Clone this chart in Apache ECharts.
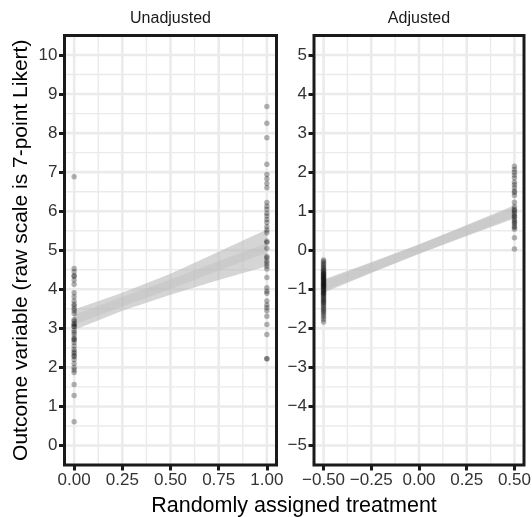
<!DOCTYPE html>
<html><head><meta charset="utf-8">
<script src="https://cdn.jsdelivr.net/npm/echarts@6/dist/echarts.min.js"></script>
<style>html,body{margin:0;padding:0;background:#fff}#c{width:532px;height:517px}</style>
</head><body><div id="c"></div>
<script>
// ---- text ----
const panelTitles = ['Unadjusted', 'Adjusted'];
const xTitle = 'Randomly assigned treatment';
const yTitle = 'Outcome variable (raw scale is 7-point Likert)';

// ---- tick labels / breaks ----
const unadjXTicks = [0, 0.25, 0.5, 0.75, 1];
const unadjXMinor = [0.125, 0.375, 0.625, 0.875];
const adjXTicks = [-0.5, -0.25, 0, 0.25, 0.5];
const adjXMinor = [-0.375, -0.125, 0.125, 0.375];
const unadjYTicks = [0, 1, 2, 3, 4, 5, 6, 7, 8, 9, 10];
const unadjYMinor = [0.5, 1.5, 2.5, 3.5, 4.5, 5.5, 6.5, 7.5, 8.5, 9.5];
const adjYTicks = [-5, -4, -3, -2, -1, 0, 1, 2, 3, 4, 5];
const adjYMinor = [-4.5, -3.5, -2.5, -1.5, -0.5, 0.5, 1.5, 2.5, 3.5, 4.5];

// ---- treatment values ----
const unadjGroups = [0, 1];
const adjGroups = [-0.5, 0.5];

// ---- outcome values ----
const unadjControl = [6.88, 4.53, 4.45, 4.34, 4.34, 4.24, 4.13, 3.91, 3.81, 3.70, 3.62, 3.57, 3.50, 3.45,
  3.38, 3.22, 3.18, 3.12, 3.10, 3.05, 3.05, 2.95, 2.90, 2.84, 2.76, 2.72, 2.70, 2.64, 2.55, 2.46, 2.40,
  2.36, 2.30, 2.28, 2.20, 2.10, 2.00, 1.93, 1.87, 1.56, 1.28, 0.61];
const unadjTreated = [8.68, 8.25, 7.88, 7.20, 6.94, 6.83, 6.71, 6.60, 6.22, 6.13, 6.05, 5.95, 5.88, 5.79,
  5.71, 5.60, 5.52, 5.45, 5.23, 5.20, 5.05, 4.84, 4.80, 4.72, 4.66, 4.59, 4.52, 4.30, 4.04, 3.95, 3.90,
  3.70, 3.60, 3.53, 3.45, 3.31, 3.10, 2.84, 2.22, 2.22];
const adjControl = [-0.25, -0.29, -0.33, -0.37, -0.41, -0.45, -0.48, -0.51, -0.54, -0.57, -0.59, -0.61,
  -0.63, -0.65, -0.67, -0.69, -0.71, -0.73, -0.75, -0.77, -0.79, -0.81, -0.83, -0.85, -0.87, -0.89, -0.91,
  -0.93, -0.95, -0.97, -0.99, -1.02, -1.04, -1.07, -1.09, -1.11, -1.13, -1.16, -1.19, -1.22, -1.25, -1.28,
  -1.31, -1.34, -1.37, -1.41, -1.45, -1.49, -1.53, -1.57, -1.61, -1.66, -1.71, -1.77, -1.84];
const adjTreated = [2.15, 2.07, 2.00, 1.93, 1.85, 1.74, 1.68, 1.60, 1.52, 1.48, 1.40, 1.23, 1.12, 1.05,
  1.02, 0.98, 0.93, 0.88, 0.85, 0.80, 0.75, 0.72, 0.68, 0.62, 0.58, 0.54, 0.32, 0.03];

// ---- fitted line confidence bands ----
const unadjFitX = [0, 0.25, 0.5, 0.75, 1];
const unadjFitLow = [2.96, 3.45, 3.86, 4.24, 4.59];
const unadjFitHigh = [3.48, 3.91, 4.40, 4.96, 5.53];
const adjFitX = [-0.5, -0.25, 0, 0.25, 0.5];
const adjFitLow = [-1.09, -0.585, -0.09, 0.365, 0.81];
const adjFitHigh = [-0.75, -0.305, 0.15, 0.645, 1.15];

// ---- build option ----
const FONT = '"Liberation Sans", Arial, sans-serif';
const minus = v => String(v).replace('-', '\u2212');

function xAxis(gi, min, max, ticks) {
  return {
    type: 'value', gridIndex: gi, min: min, max: max,
    axisLine: { show: false, onZero: false },
    axisTick: { show: true, length: 5.5, lineStyle: { color: '#1a1a1a', width: 3 }, customValues: ticks },
    axisLabel: { customValues: ticks, margin: 7, color: '#333', fontSize: 17, fontFamily: FONT,
      formatter: v => minus(v.toFixed(2)) },
    splitLine: { show: false }
  };
}
function yAxis(gi, min, max, ticks, extra) {
  return Object.assign({
    type: 'value', gridIndex: gi, min: min, max: max,
    axisLine: { show: false, onZero: false },
    axisTick: { show: true, length: 5.5, lineStyle: { color: '#1a1a1a', width: 3 }, customValues: ticks },
    axisLabel: { customValues: ticks, margin: 7, color: '#333', fontSize: 17, fontFamily: FONT,
      formatter: v => minus(Math.round(v)) },
    splitLine: { show: false }
  }, extra || {});
}

function gridLines(idx, xs, ys, width) {
  const data = xs.map(v => [v, 0, 0]).concat(ys.map(v => [0, v, 1]));
  return {
    type: 'custom', xAxisIndex: idx, yAxisIndex: idx, z: 1, silent: true, clip: false,
    data: data,
    renderItem: (params, api) => {
      const cs = params.coordSys;
      const p = api.coord([api.value(0), api.value(1)]);
      if (api.value(2) === 0) {
        return { type: 'line', shape: { x1: p[0], y1: cs.y + 1.5, x2: p[0], y2: cs.y + cs.height - 1.5 },
          style: { stroke: '#ebebeb', lineWidth: width } };
      }
      return { type: 'line', shape: { x1: cs.x + 1.5, y1: p[1], x2: cs.x + cs.width - 1.5, y2: p[1] },
        style: { stroke: '#ebebeb', lineWidth: width } };
    }
  };
}

function band(idx, fx, lo, hi) {
  return {
    type: 'custom', xAxisIndex: idx, yAxisIndex: idx, z: 3, silent: true,
    data: fx.map((x, i) => [x, lo[i], hi[i]]),
    renderItem: (params, api) => {
      if (params.dataIndex !== 0) return null;
      const pts = [];
      fx.forEach((x, i) => pts.push(api.coord([x, hi[i]])));
      for (let i = fx.length - 1; i >= 0; i--) pts.push(api.coord([fx[i], lo[i]]));
      return { type: 'polygon', shape: { points: pts }, style: { fill: 'rgba(185,185,185,0.6)' } };
    }
  };
}
function fitLine(idx, fx, lo, hi) {
  return {
    type: 'line', xAxisIndex: idx, yAxisIndex: idx, z: 4, silent: true, symbol: 'none',
    data: fx.map((x, i) => [x, (lo[i] + hi[i]) / 2]),
    lineStyle: { color: 'rgba(190,190,190,0.45)', width: 9 }
  };
}
function points(idx, xv, ys) {
  return {
    type: 'scatter', xAxisIndex: idx, yAxisIndex: idx, z: 5, silent: true,
    symbolSize: 5.5, itemStyle: { color: 'rgba(0,0,0,0.36)' },
    data: ys.map(y => [xv, y])
  };
}

const option = {
  backgroundColor: '#fff',
  animation: false,
  grid: [
    { left: 64.5, top: 35.5, width: 212, height: 429.5, show: true, z: 10, backgroundColor: 'transparent',
      borderColor: '#1a1a1a', borderWidth: 3, outerBoundsMode: 'none', containLabel: false },
    { left: 314, top: 35.5, width: 210, height: 429.5, show: true, z: 10, backgroundColor: 'transparent',
      borderColor: '#1a1a1a', borderWidth: 3, outerBoundsMode: 'none', containLabel: false }
  ],
  xAxis: [xAxis(0, -0.05, 1.05, unadjXTicks), xAxis(1, -0.55, 0.55, adjXTicks)],
  yAxis: [
    yAxis(0, -0.5, 10.5, unadjYTicks, {
      name: yTitle, nameLocation: 'middle', nameRotate: 90, nameGap: 33,
      nameTextStyle: { fontSize: 21, color: '#000', fontFamily: FONT }
    }),
    yAxis(1, -5.5, 5.5, adjYTicks)
  ],
  series: [
    gridLines(0, unadjXMinor, unadjYMinor, 1.4),
    gridLines(0, unadjXTicks, unadjYTicks, 2.6),
    gridLines(1, adjXMinor, adjYMinor, 1.4),
    gridLines(1, adjXTicks, adjYTicks, 2.6),
    band(0, unadjFitX, unadjFitLow, unadjFitHigh),
    fitLine(0, unadjFitX, unadjFitLow, unadjFitHigh),
    band(1, adjFitX, adjFitLow, adjFitHigh),
    fitLine(1, adjFitX, adjFitLow, adjFitHigh),
    points(0, unadjGroups[0], unadjControl),
    points(0, unadjGroups[1], unadjTreated),
    points(1, adjGroups[0], adjControl),
    points(1, adjGroups[1], adjTreated)
  ],
  graphic: [
    { type: 'text', x: 170.5, y: 19, style: { text: panelTitles[0], textAlign: 'center', textVerticalAlign: 'middle',
      fontSize: 16, fontFamily: FONT, fill: '#1a1a1a' } },
    { type: 'text', x: 419, y: 19, style: { text: panelTitles[1], textAlign: 'center', textVerticalAlign: 'middle',
      fontSize: 16, fontFamily: FONT, fill: '#1a1a1a' } },
    { type: 'text', x: 294, y: 506, style: { text: xTitle, textAlign: 'center', textVerticalAlign: 'middle',
      fontSize: 21.5, fontFamily: FONT, fill: '#000' } }
  ]
};

const chart = echarts.init(document.getElementById('c'), null, { renderer: 'canvas' });
chart.setOption(option);
</script>
</body></html>
